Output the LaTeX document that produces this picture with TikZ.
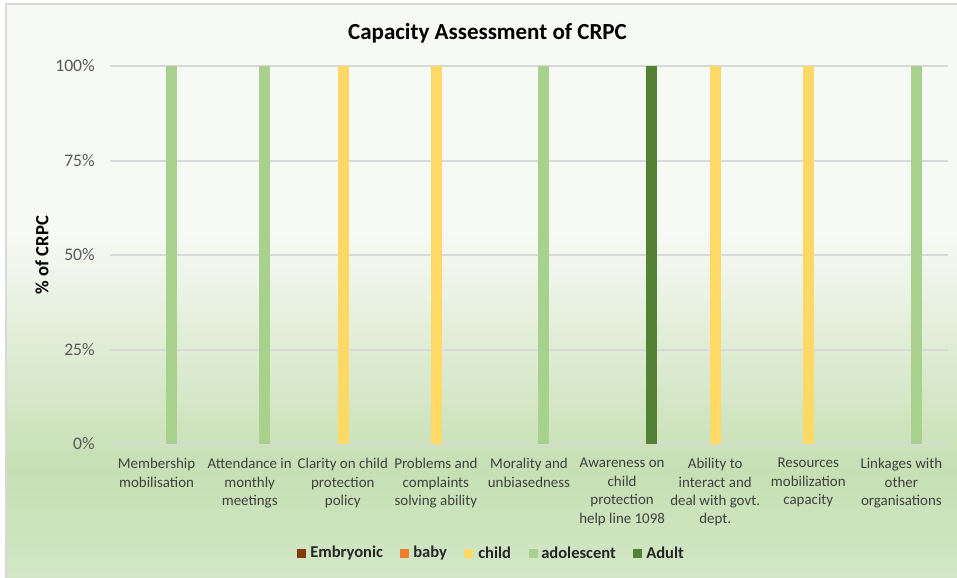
\documentclass[tikz,border=0pt]{standalone}
\usepackage{fontspec}
\setmainfont{Carlito}
\usepackage{color}

\definecolor{embryo}{HTML}{843C0C}
\definecolor{baby}{HTML}{ED7D31}
\definecolor{child}{HTML}{FFD966}
\definecolor{teen}{HTML}{A9D18E}
\definecolor{adult}{HTML}{548235}
\definecolor{gridgray}{HTML}{D9D9D9}
\definecolor{ticktext}{HTML}{595959}
\definecolor{cattext}{HTML}{404040}
\definecolor{paper}{HTML}{F7F9F4}
\definecolor{meadow}{HTML}{C6DFB3}
\definecolor{meadowlight}{HTML}{D3E7C6}

\begin{document}
\begin{tikzpicture}[%
      x=0.75pt, y=-0.75pt,
      tick/.style={anchor=east, inner sep=0pt, text=ticktext, font=\fontsize{13.2}{15}\selectfont},
      cat/.style={anchor=north, align=center, inner sep=0pt, text=cattext, font=\fontsize{11.2}{13.8}\selectfont},
      key/.style={minimum size=6.75pt, inner sep=0pt},
      legtext/.style={anchor=west, inner sep=0pt, text=black!85, font=\bfseries\fontsize{12.4}{14}\selectfont},
      ]
      \useasboundingbox (0,0) rectangle (957,578);
      \fill [white] (0,0) rectangle (957,578);
      \fill [paper] (6,4) rectangle (957,235);
      \shade [top color=paper, bottom color=meadow] (6,235) rectangle (957,470);
      \shade [top color=meadow, bottom color=meadowlight] (6,470) rectangle (957,578);
      \draw [color=black!15, line width=1.2pt] (6,578) -- (6,4) -- (957,4);

      % grid
      \draw [color=gridgray, line width=1pt] (110,66) -- (948,66);
      \draw [color=gridgray, line width=1pt] (110,161) -- (948,161);
      \draw [color=gridgray, line width=1pt] (110,255) -- (948,255);
      \draw [color=gridgray, line width=1pt] (110,350) -- (948,350);
      \draw [color=gridgray, line width=1pt] (110,444) -- (948,444);

      \node [tick] (t100) at (95,66) {100\%};
      \node [tick] (t75) at (95,161) {75\%};
      \node [tick] (t50) at (95,255) {50\%};
      \node [tick] (t25) at (95,350) {25\%};
      \node [tick] (t0) at (95,444) {0\%};

      % bars
      \fill [color=teen] (165.5,66) rectangle (176.5,444);
      \fill [color=teen] (258.5,66) rectangle (269.5,444);
      \fill [color=child] (337.5,66) rectangle (348.5,444);
      \fill [color=child] (430.5,66) rectangle (441.5,444);
      \fill [color=teen] (538,66) rectangle (549,444);
      \fill [color=adult] (645.5,66) rectangle (656.5,444);
      \fill [color=child] (710,66) rectangle (721,444);
      \fill [color=child] (803,66) rectangle (814,444);
      \fill [color=teen] (911,66) rectangle (922,444);

      \node [cat] (c1) at (156.6,458) {Membership\\mobilisation};
      \node [cat] (c2) at (249.7,458) {Attendance in\\monthly\\meetings};
      \node [cat] (c3) at (342.8,458) {Clarity on child\\protection\\policy};
      \node [cat] (c4) at (435.9,458) {Problems and\\complaints\\solving ability};
      \node [cat] (c5) at (529.0,458) {Morality and\\unbiasedness};
      \node [cat] (c6) at (622.1,458) {Awareness on\\child\\protection\\help line 1098};
      \node [cat] (c7) at (715.2,458) {Ability to\\interact and\\deal with govt.\\dept.};
      \node [cat] (c8) at (808.3,458) {Resources\\mobilization\\capacity};
      \node [cat] (c9) at (901.4,458) {Linkages with\\other\\organisations};

      \node [font=\bfseries\fontsize{17.25}{20}\selectfont] (title) at (487.5,33) {Capacity Assessment of CRPC};
      \node [rotate=90, font=\bfseries\fontsize{14}{16}\selectfont] (ytitle) at (42,255) {\% of CRPC};

      % legend
      \node [key, fill=embryo] (kEmb) at (301.5,553) {};
      \node [key, fill=baby] (kBaby) at (404,553) {};
      \node [key, fill=child] (kChild) at (468.5,553) {};
      \node [key, fill=teen] (kTeen) at (533.5,553) {};
      \node [key, fill=adult] (kAdult) at (637.5,553) {};
      \node [legtext] (lEmb) at (310,553) {Embryonic};
      \node [legtext] (lBaby) at (413,553) {baby};
      \node [legtext] (lChild) at (478,553) {child};
      \node [legtext] (lTeen) at (541,553) {adolescent};
      \node [legtext] (lAdult) at (646,553) {Adult};
\end{tikzpicture}
\end{document}
